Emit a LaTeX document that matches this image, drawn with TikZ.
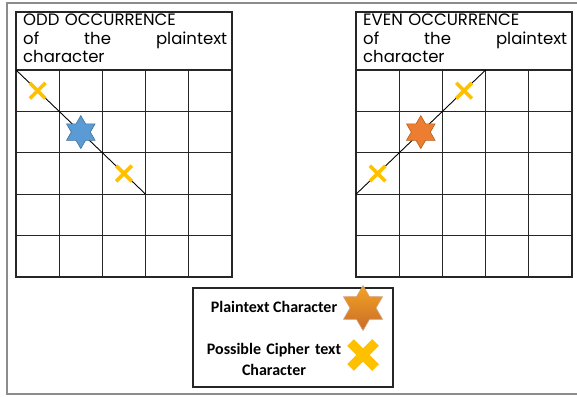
\documentclass[tikz,border=0pt]{standalone}
\usepackage{fontspec}
\setmainfont{Poppins}
\newfontfamily\legendfont{Carlito}
\usetikzlibrary{shapes.geometric,shapes.misc}
\definecolor{framec}{HTML}{8C8C8C}
\definecolor{gridc}{HTML}{262626}
\definecolor{starblue}{HTML}{5B9BD5}
\definecolor{starblueline}{HTML}{41719C}
\definecolor{starorange}{HTML}{ED7D31}
\definecolor{starorangeline}{HTML}{B5601F}
\definecolor{crossyellow}{HTML}{FFC000}
\tikzset{
  gridline/.style={draw=gridc, line width=1.3pt},
  diagline/.style={draw=black, line width=0.9pt},
  hexstar/.style={star, star points=6, star point ratio=1.73, inner sep=0pt, minimum size=33pt, line width=0.6pt},
  smallx/.style={cross out, draw=crossyellow, line width=3.6pt, inner sep=0pt, minimum size=12pt},
  bigxline/.style={draw=crossyellow, line width=9.5pt},
  headtext/.style={anchor=base west, text width=204pt, align=left, inner sep=0pt, font=\fontsize{16.5}{18.5}\selectfont},
  legendtext/.style={inner sep=0pt, font=\legendfont\bfseries\fontsize{16}{21}\selectfont}
}
\begin{document}
\begin{tikzpicture}[x=1pt,y=-1pt]
\useasboundingbox (0,0) rectangle (577,396);
\draw[framec, line width=2pt] (582,3) -- (7,3) -- (7,394) -- (582,394);
% left grid
\draw[gridline] (16,12) rectangle (232,277);
\foreach \r in {0,...,4} \draw[gridline] (16,70+41.4*\r) -- (232,70+41.4*\r);
\foreach \c in {1,...,4} \draw[gridline] (16+43.2*\c,70) -- (16+43.2*\c,277);
\node[headtext] (hl) at (23,26) {ODD OCCURRENCE\\ of\hfill the\hfill plaintext\\ character};
\draw[diagline] (16,70) -- (145.6,194.2);
\node[smallx] (xl1) at (37.6,90.7) {};
\node[hexstar, fill=starblue, draw=starblueline] (sl) at (80.8,132.1) {};
\node[smallx] (xl2) at (124,173.5) {};
% right grid
\draw[gridline] (356,12) rectangle (572,277);
\foreach \r in {0,...,4} \draw[gridline] (356,70+41.4*\r) -- (572,70+41.4*\r);
\foreach \c in {1,...,4} \draw[gridline] (356+43.2*\c,70) -- (356+43.2*\c,277);
\node[headtext] (hr) at (363,26) {EVEN OCCURRENCE\\ of\hfill the\hfill plaintext\\ character};
\draw[diagline] (356,194.2) -- (485.6,70);
\node[smallx] (xr1) at (464,90.7) {};
\node[hexstar, fill=starorange, draw=starorangeline] (sr) at (420.8,132.1) {};
\node[smallx] (xr2) at (377.6,173.5) {};
% legend
\draw[draw=gridc, line width=1.1pt] (193,288) rectangle (393,387);
\node[legendtext, anchor=base] (lt1) at (274,312) {Plaintext Character};
\node[legendtext, anchor=base, text width=160pt, align=center] (lt2) at (274,354) {Possible Cipher text\\ Character};
\node[hexstar, minimum size=45pt, top color=starorange!70!yellow, bottom color=starorange!85!black, draw=starorangeline!60] (ls) at (363,308) {};
\coordinate (lx) at (363,355);
\draw[bigxline] ([shift={(-12.5,-12.5)}]lx) -- ([shift={(12.5,12.5)}]lx);
\draw[bigxline] ([shift={(-12.5,12.5)}]lx) -- ([shift={(12.5,-12.5)}]lx);
\end{tikzpicture}
\end{document}
